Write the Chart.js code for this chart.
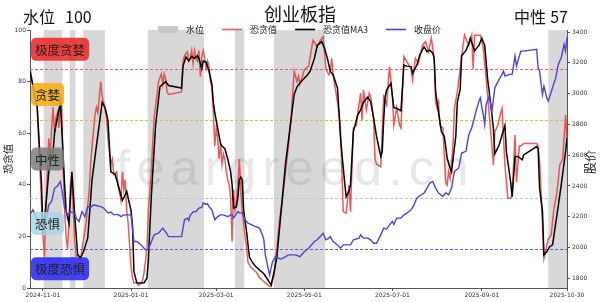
<!DOCTYPE html>
<html>
<head>
<meta charset="utf-8">
<script src="https://cdn.jsdelivr.net/npm/chart.js@4.4.1/dist/chart.umd.min.js"></script>
<style>
  html, body { margin: 0; padding: 0; background: #fff; }
</style>
</head>
<body>
<canvas id="fgChart" width="600" height="302"></canvas>
<script>
// x values are days counted from 2024-11-01
var startDate = '2024-10-23';
var endDate = '2025-10-30';

var fgDays = [-9,-8,-6,-4,-2,0,1,2,4,5,6,7,8,9,10,11,12,13,14,15,16,17,18,19,20,21,22,23,24,26,27,29,30,32,33,34,36,37,38,40,41,42,44,45,47,48,49,51,52,54,55,56,57,58,59,61,62,63,65,66,68,69,70,72,73,75,76,77,79,80,82,
  83,84,85,86,87,96,97,98,100,101,102,103,104,105,106,107,108,109,110,111,112,113,114,115,116,117,118,119,120,121,122,123,124,125,126,127,128,129,130,131,132,133,134,135,136,137,138,139,140,141,142,144,146,148,150,152,154,156,158,160,162,164,166,168,170,172,174,176,
  177,178,181,184,187,190,192,194,196,198,199,200,201,204,206,208,210,212,213,215,217,220,221,222,224,226,227,229,230,231,234,236,238,240,242,243,245,247,248,250,252,255,256,258,260,263,265,267,269,
  271,272,273,274,275,277,279,280,281,282,284,285,287,289,291,292,295,297,298,299,303,305,307,309,311,312,313,315,317,318,320,322,324,325,327,328,330,331,333,342,343,344,346,347,348,350,352,354,356,358,360,362,363];
var fgValues = [85,82,75,70,45,20,12,30,58,52,62,70,60,66,68,62,75,70,45,30,20,15,25,40,44,30,18,12,13,11,15,22,26,38,48,55,67,70,68,80,74,72,66,58,48,50,44,45,40,34,45,38,42,30,25,8,4,2,2,1,2,3,6,15,30,45,56,66,75,80,83,
  79,83,81,76,75,76,88,90,91.5,88,89,92,87,92,89,88,92,82,90,92,89,85,88,86,80,78,68,55,62,58,50,56,48,52,50,45,42,40,35,18,38,30,33,40,50,38,30,25,20,16,10,8,7,6,4,3,2,1,0.5,5,15,27,35,45,55,67,84,80,
  82,79,84.5,86,96,93.5,96,97.4,85,82.6,84,89,82.6,72,63,29.6,29,40,29.6,62,63,75.5,65,76.7,69,75.5,74,66,50,48,47,74,71,85.8,75,63,70,63,62,89.7,87.7,85,80.6,89,87,94.2,95.5,91.6,96.8,
  89,72,69.7,72,63,62,41,40,45,42.5,55,69.7,76,85,94,98,94,98,85,98,98,93,81,68,55,47.7,60.6,63,67.7,69.6,47.7,34.8,34.8,36,59.3,41,55,55,56,56,55,49,25.7,11.5,14,19,20.5,31,37,47.7,50,67,57];

var maDays = [-9,-4,-1,0,2,4,7,8,10,12,13,15,16,18,20,22,24,26,28,31,34,37,41,43,45,47,50,55,56,58,61,62,63,65,68,70,72,73,75,78,81,83,85,87,96,97,99,101,103,105,107,108,110,111,113,115,117,118,119,121,123,124,126,128,130,131,132,134,135,136,137,138,139,141,143,145,147,150,153,156,158,160,162,164,166,168,170,172,174,176,178,181,183,185,188,190,193,195,197,199,201,204,205,206,208,210,212,213,215,218,220,222,225,227,229,231,234,235,236,237,238,241,243,245,248,250,252,255,256,259,261,264,266,268,270,271,272,274,276,278,280,282,283,286,287,289,290,293,295,296,299,302,304,306,308,310,312,313,316,318,320,321,324,325,327,329,332,333,342,343,344,346,347,349,351,353,355,357,359,362,363];
var maValues = [84,70,40,21,32,45,53,60,66,72,62,40,30,25,45,28,13,11.6,14,19.4,42,55,72,70,65,45,44,34,35,37.5,30,24,6.4,2,1.9,2,3.8,11,35,63,78,79,80,78.5,77.5,86,89.5,88,89.7,89,90,89,85,88,87.6,84,79,72,68,62,56,55,54,50,45,40,31,31.5,35,42,43,42,30,22,12,10,8.5,7,5.5,3,1.2,6,12,24,36,48,57,66,75,78,79.5,81.3,82.5,84,89,94,95.5,93,89,84,82.6,77.5,69,59,46.4,35.4,37.5,40,60.6,67,69,72,74,72.2,66,59,51,52.8,65,74,76.7,79.3,70,69.6,68.7,86.4,86,85.8,83.2,86.4,90.3,93.5,91.6,92.2,91,89,76,68,60.6,58.8,50.3,46.4,45,59,72,77,90,92,94.8,96.8,92,94,96.8,94,81,72,62,52,55.4,59.3,63,52.8,41,35.4,51,51,49.7,51.6,54.8,54,38.6,29.7,12.8,14,16,16.7,24.4,32,40,52.8,58];

var priceDays = [-9,-7,-5,-3,0,2,4,6,8,10,12,13,15,17,19,22,23,25,27,29,31,33,35,38,40,42,45,47,49,52,54,56,61,63,65,68,70,71,73,77,80,83,85,87,96,98,100,101,102,104,106,108,110,111,113,114,115,117,119,121,123,125,128,130,131,132,135,136,138,140,142,144,146,150,152,153,154,157,159,161,163,165,167,170,173,175,178,181,184,188,190,192,194,196,198,199,201,204,206,208,211,213,215,219,220,222,225,227,229,231,234,236,238,240,242,243,245,248,250,252,255,257,259,262,264,266,268,270,272,274,277,279,281,283,285,288,290,293,295,297,300,302,303,304,305,306,307,309,311,313,316,318,319,320,323,325,327,328,331,333,342,343,344,346,347,349,350,353,354,355,357,359,361,362,363];
var priceValues = [2212,2245,2201,2180,2104,2170,2277,2300,2386,2400,2429,2380,2256,2212,2230,2223,2190,2169,2234,2200,2266,2260,2277,2270,2266,2256,2225,2230,2212,2215,2201,2212,2212,2039,2040,2017,1995,1984,1990,2082,2093,2126,2100,2071,2071,2180,2191,2175,2210,2232,2234,2256,2260,2289,2280,2285,2266,2245,2180,2201,2212,2212,2200,2212,2212,2191,2234,2225,2225,2180,2158,2150,2140,2126,2082,2050,1952,1821,1908,1941,1930,1925,1935,1952,1952,1952,1941,1973,1995,2039,2050,2071,2093,2050,2061,2071,2039,2017,1995,2017,2017,2017,2050,2061,2082,2061,2061,2050,2028,2028,2082,2126,2120,2147,2169,2150,2191,2191,2212,2223,2245,2277,2321,2343,2354,2386,2419,2429,2386,2354,2332,2354,2343,2386,2494,2517,2614,2625,2734,2777,2885,2951,2973,2908,2864,2799,2929,2983,2885,3038,3092,3125,3146,3114,3125,3125,3244,3179,3276,3276,3287,3168,3146,2994,3048,2973,2951,3038,3070,3092,3190,3233,3320,3276,3364];

// water level periods (shaded)
var waterStart = [0.5, 18.5, 28, 72.5, 133, 160, 350];
var waterEnd = [13.5, 22.5, 43, 111.5, 139.5, 195.5, 363];

var tickDates = ['2024-11-01', '2025-01-01', '2025-03-01', '2025-05-01', '2025-07-01', '2025-09-01', '2025-10-30'];
var fgTicks = [0, 20, 40, 60, 80, 100];
var priceTicks = [1800, 2000, 2200, 2400, 2600, 2800, 3000, 3200, 3400];

var zoneNames = ['极度贪婪', '贪婪', '中性', '恐惧', '极度恐惧'];
var zoneEdges = [100, 85, 65, 35, 15, 0];

var indexName = '创业板指';
var waterLevel = 100;
var latestZone = '中性';
var latestValue = 57;

var CJK = '"Noto Sans CJK SC", sans-serif';

function dayOf(s) {
  var p = s.split('-');
  return (Date.UTC(+p[0], +p[1] - 1, +p[2]) - Date.UTC(2024, 10, 1)) / 86400000;
}
function pts(xs, ys) {
  return xs.map(function (x, i) { return { x: x, y: ys[i] }; });
}

var xMin = dayOf(startDate), xMax = dayOf(endDate);
var waterPts = [{ x: xMin, y: 0 }];
waterStart.forEach(function (s, i) {
  waterPts.push({ x: s, y: 100 }, { x: waterEnd[i], y: 0 });
});

var zoneFill = ['rgba(240,45,45,0.9)', 'rgba(248,172,20,0.88)', 'rgba(125,125,125,0.85)', 'rgba(170,215,230,0.85)', 'rgba(40,40,245,0.88)'];
var lineStyles = [
  { v: 85, c: '#ee5a86' },
  { v: 65, c: '#f2b83a' },
  { v: 35, c: '#b4cad8' },
  { v: 15, c: '#5c5cf2' }
];

var decor = {
  id: 'decor',
  afterDatasetDraw: function (chart, args) {
    if (chart.data.datasets[args.index].label !== '水位') return;
    var ctx = chart.ctx, a = chart.chartArea, y = chart.scales.y;
    ctx.save();
    ctx.beginPath();
    ctx.rect(a.left, a.top, a.right - a.left, a.bottom - a.top);
    ctx.clip();
    // watermark
    var mark = 'feargreed.cn';
    ctx.font = '50px "Liberation Sans", sans-serif';
    var gap = Math.max(0, (352 - ctx.measureText(mark).width) / (mark.length - 1));
    ctx.letterSpacing = gap.toFixed(1) + 'px';
    ctx.fillStyle = 'rgba(110,110,110,0.17)';
    ctx.textBaseline = 'alphabetic';
    ctx.fillText(mark, 116, 185);
    ctx.letterSpacing = '0px';
    // zone threshold lines
    ctx.lineWidth = 1;
    ctx.setLineDash([3, 2]);
    lineStyles.forEach(function (l) {
      var py = Math.round(y.getPixelForValue(l.v)) + 0.5;
      ctx.strokeStyle = l.c;
      ctx.beginPath();
      ctx.moveTo(a.left, py);
      ctx.lineTo(a.right, py);
      ctx.stroke();
    });
    ctx.restore();
  },
  afterDatasetsDraw: function (chart) {
    var ctx = chart.ctx, a = chart.chartArea, y = chart.scales.y;
    ctx.save();
    // zone boxes
    ctx.font = '12.5px ' + CJK;
    ctx.textBaseline = 'middle';
    zoneNames.forEach(function (name, i) {
      var cy = y.getPixelForValue((zoneEdges[i] + zoneEdges[i + 1]) / 2);
      var w = ctx.measureText(name).width + 8, h = 23;
      ctx.fillStyle = zoneFill[i];
      ctx.beginPath();
      ctx.roundRect(a.left + 1, cy - h / 2, w, h, 5);
      ctx.fill();
      ctx.fillStyle = '#222';
      ctx.fillText(name, a.left + 5, cy + 1);
    });
    // legend
    ctx.font = '9px ' + CJK;
    var ds = chart.data.datasets.slice().sort(function (p, q) { return q.order - p.order; });
    var widths = ds.map(function (d) { return 20 + 8 + ctx.measureText(d.label).width; });
    var total = widths.reduce(function (s, w) { return s + w; }, 0) + 18 * (ds.length - 1);
    var x = (a.left + a.right) / 2 - total / 2 + 1, ly = 29.5;
    ds.forEach(function (d, i) {
      if (d.fill) {
        ctx.fillStyle = '#c9c9c9';
        ctx.fillRect(x, ly - 3.5, 20, 7);
      } else {
        ctx.strokeStyle = d.borderColor;
        ctx.lineWidth = 1.6;
        ctx.beginPath();
        ctx.moveTo(x, ly);
        ctx.lineTo(x + 20, ly);
        ctx.stroke();
      }
      ctx.fillStyle = '#222';
      ctx.fillText(d.label, x + 28, ly);
      x += widths[i] + 18;
    });
    // right axis title, rotated like the left one
    ctx.save();
    ctx.translate(590, (a.top + a.bottom) / 2 + 3);
    ctx.rotate(-Math.PI / 2);
    ctx.textAlign = 'center';
    ctx.font = '12px ' + CJK;
    ctx.fillText('股价', 0, 0);
    ctx.restore();
    // headings
    ctx.fillStyle = '#111';
    ctx.textBaseline = 'alphabetic';
    ctx.font = '16px ' + CJK;
    ctx.textAlign = 'left';
    ctx.fillText('水位', 23, 23);
    ctx.fillText(String(waterLevel), 65, 23);
    ctx.textAlign = 'right';
    ctx.fillText(String(latestValue), a.right + 1, 23);
    ctx.fillText(latestZone, a.right - 21, 23);
    ctx.font = '18px ' + CJK;
    ctx.textAlign = 'center';
    ctx.fillText(indexName, 300, 21);
    ctx.restore();
  }
};

Chart.defaults.font.family = '"DejaVu Sans", sans-serif';
Chart.defaults.color = '#333';

var ctx = document.getElementById('fgChart').getContext('2d');
var myChart = new Chart(ctx, {
  type: 'line',
  data: {
    datasets: [{
      label: '水位',
      data: waterPts,
      yAxisID: 'y',
      stepped: true,
      fill: 'start',
      backgroundColor: '#d8d8d8',
      borderWidth: 0,
      borderColor: 'rgba(0,0,0,0)',
      pointRadius: 0,
      order: 4
    }, {
      label: '恐贪值',
      data: pts(fgDays, fgValues),
      yAxisID: 'y',
      borderColor: 'rgba(232,60,60,0.85)',
      borderWidth: 1.5,
      pointRadius: 0,
      fill: false,
      order: 3
    }, {
      label: '恐贪值MA3',
      data: pts(maDays, maValues),
      yAxisID: 'y',
      borderColor: '#000',
      borderWidth: 1.5,
      pointRadius: 0,
      fill: false,
      order: 2
    }, {
      label: '收盘价',
      data: pts(priceDays, priceValues),
      yAxisID: 'y2',
      borderColor: '#4a45d8',
      borderWidth: 1.4,
      pointRadius: 0,
      fill: false,
      order: 1
    }]
  },
  options: {
    responsive: false,
    animation: false,
    layout: { padding: { top: 30, left: 0, right: 0, bottom: 0 } },
    plugins: { legend: { display: false }, tooltip: { enabled: false } },
    scales: {
      x: {
        type: 'linear',
        min: xMin,
        max: xMax,
        afterBuildTicks: function (s) { s.ticks = tickDates.map(function (d) { return { value: dayOf(d) }; }); },
        afterFit: function (s) { s.height = 14; },
        ticks: {
          callback: function (v, i) { return tickDates[i]; },
          font: { size: 6 }, maxRotation: 0, autoSkip: false, padding: 1
        },
        grid: { drawOnChartArea: false, tickLength: 3, color: '#555' },
        border: { color: '#555' }
      },
      y: {
        position: 'left',
        min: 0,
        max: 100,
        afterBuildTicks: function (s) { s.ticks = fgTicks.map(function (v) { return { value: v }; }); },
        afterFit: function (s) { s.width = 30; },
        ticks: { font: { size: 6 }, padding: 1, callback: function (v) { return String(v); } },
        grid: { drawOnChartArea: false, tickLength: 3, color: '#555' },
        border: { color: '#555' },
        title: { display: true, text: '恐贪值', font: { size: 10, family: CJK }, color: '#222', padding: { top: 2, bottom: 0 } }
      },
      y2: {
        position: 'right',
        min: 1737,
        max: 3413,
        afterBuildTicks: function (s) { s.ticks = priceTicks.map(function (v) { return { value: v }; }); },
        afterFit: function (s) { s.width = 33; },
        ticks: { font: { size: 6 }, padding: 2, callback: function (v) { return String(v); } },
        grid: { drawOnChartArea: false, tickLength: 3, color: '#555' },
        border: { color: '#555' }
      }
    }
  },
  plugins: [decor]
});
</script>
</body>
</html>
